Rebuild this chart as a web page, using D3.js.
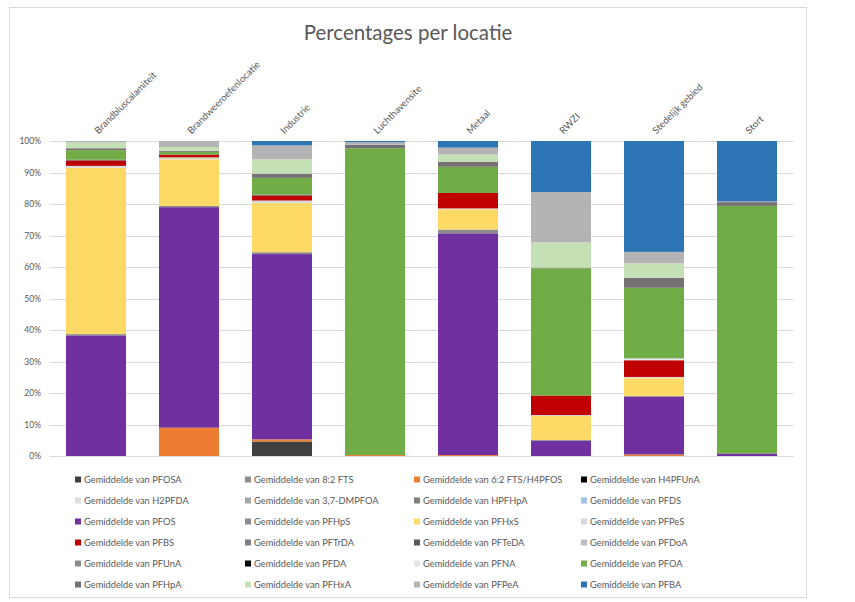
<!DOCTYPE html>
<html>
<head>
<meta charset="utf-8">
<script src="https://cdn.jsdelivr.net/npm/d3@7"></script>
<style>
  html, body { margin: 0; padding: 0; background: #ffffff; }
  svg { display: block; }
  text { font-family: Lato, "Open Sans", sans-serif; fill: #595959; }
</style>
</head>
<body>
<svg id="chart" width="855" height="602"></svg>
<script>
const title = "Percentages per locatie";

const categories = ["Brandbluscalamiteit", "Brandweeroefenlocatie", "Industrie", "Luchthavensite",
  "Metaal", "RWZI", "Stedelijk gebied", "Stort"];

const tickValues = [0, 10, 20, 30, 40, 50, 60, 70, 80, 90, 100];
const tickLabels = ["0%", "10%", "20%", "30%", "40%", "50%", "60%", "70%", "80%", "90%", "100%"];

const seriesNames = [
  "Gemiddelde van PFOSA", "Gemiddelde van 8:2 FTS", "Gemiddelde van 6:2 FTS/H4PFOS", "Gemiddelde van H4PFUnA",
  "Gemiddelde van H2PFDA", "Gemiddelde van 3,7-DMPFOA", "Gemiddelde van HPFHpA", "Gemiddelde van PFDS",
  "Gemiddelde van PFOS", "Gemiddelde van PFHpS", "Gemiddelde van PFHxS", "Gemiddelde van PFPeS",
  "Gemiddelde van PFBS", "Gemiddelde van PFTrDA", "Gemiddelde van PFTeDA", "Gemiddelde van PFDoA",
  "Gemiddelde van PFUnA", "Gemiddelde van PFDA", "Gemiddelde van PFNA", "Gemiddelde van PFOA",
  "Gemiddelde van PFHpA", "Gemiddelde van PFHxA", "Gemiddelde van PFPeA", "Gemiddelde van PFBA"
];

const seriesColors = [
  "#404040", "#8c8c8c", "#ed7d31", "#000000",
  "#e0e0e0", "#a5a5a5", "#7f7f7f", "#9dc3e6",
  "#7030a0", "#8c8c8c", "#ffd966", "#d9d9d9",
  "#c00000", "#7f7f7f", "#595959", "#bfbfbf",
  "#8c8c8c", "#000000", "#e7e6e6", "#70ad47",
  "#767171", "#c5e0b4", "#b4b4b4", "#2e75b6"
];

// one row per series, one value (%) per category
const seriesValues = [
  [0, 0, 4.6, 0, 0, 0, 0, 0],          // PFOSA
  [0, 0, 0, 0, 0, 0, 0, 0],            // 8:2 FTS
  [0, 9.0, 0.7, 0.3, 0.3, 0, 0.5, 0],  // 6:2 FTS/H4PFOS
  [0, 0, 0, 0, 0, 0, 0, 0],            // H4PFUnA
  [0, 0, 0, 0, 0, 0, 0, 0],            // H2PFDA
  [0, 0, 0, 0, 0, 0, 0, 0],            // 3,7-DMPFOA
  [0, 0, 0, 0, 0, 0, 0, 0],            // HPFHpA
  [0, 0, 0, 0, 0, 0, 0, 0],            // PFDS
  [38.3, 70.0, 58.8, 0, 70.4, 4.8, 18.3, 0.8], // PFOS
  [0.4, 0.4, 0.6, 0, 1.2, 0.3, 0.3, 0],        // PFHpS
  [52.8, 14.8, 15.6, 0, 6.4, 7.6, 5.6, 0],     // PFHxS
  [0.6, 0.6, 0.8, 0, 0.3, 0.3, 0.4, 0],        // PFPeS
  [1.7, 0.9, 1.6, 0, 4.9, 6.2, 5.3, 0],        // PFBS
  [0, 0, 0, 0, 0, 0, 0, 0],            // PFTrDA
  [0.3, 0, 0.3, 0, 0, 0, 0, 0],        // PFTeDA
  [0, 0, 0, 0, 0, 0, 0, 0],            // PFDoA
  [0, 0, 0, 0, 0, 0, 0, 0],            // PFUnA
  [0, 0, 0, 0, 0, 0, 0, 0],            // PFDA
  [0, 0, 0, 0, 0, 0, 0.6, 0],          // PFNA
  [3.0, 0.8, 5.3, 97.4, 8.3, 40.4, 22.4, 78.6], // PFOA
  [0.6, 0.3, 1.3, 1.1, 1.6, 0.2, 3.2, 1.2],     // PFHpA
  [1.8, 1.3, 4.6, 0, 2.3, 8.0, 4.6, 0],         // PFHxA
  [0.5, 1.9, 4.4, 0.8, 2.2, 16.0, 3.6, 0.2],    // PFPeA
  [0, 0, 1.4, 0.4, 2.1, 16.2, 35.2, 19.2]       // PFBA
];

const svg = d3.select("#chart");

// chart frame
svg.append("rect").attr("x", 9.5).attr("y", 7.5).attr("width", 797).attr("height", 590)
  .attr("fill", "#ffffff").attr("stroke", "#d9d9d9").attr("stroke-width", 1);

// title
svg.append("text").attr("x", 408).attr("y", 40).attr("text-anchor", "middle")
  .style("font-size", "20.5px").text(title);

const plot = { left: 49.5, right: 793.5, top: 141, bottom: 456 };

const x = d3.scaleBand().domain(categories).range([plot.left, plot.right])
  .paddingInner(0.355).paddingOuter(0.1775);
const y = d3.scaleLinear().domain([0, 100]).range([plot.bottom, plot.top]);

// gridlines
svg.append("g").selectAll("line").data(tickValues).join("line")
  .attr("x1", plot.left).attr("x2", plot.right)
  .attr("y1", d => Math.round(y(d)) + 0.5).attr("y2", d => Math.round(y(d)) + 0.5)
  .attr("stroke", "#d9d9d9").attr("stroke-width", 1);

// y-axis labels
const yAxis = d3.axisLeft(y).tickValues(tickValues)
  .tickFormat((d, i) => tickLabels[i]).tickSize(0).tickPadding(0);
const gy = svg.append("g").attr("transform", `translate(41,0)`).call(yAxis);
gy.select(".domain").remove();
gy.selectAll("text").style("font-size", "8.5px").style("fill", "#595959")
  .style("font-family", "Lato, 'Open Sans', sans-serif");

// stacked data
const rows = categories.map((c, ci) => {
  const r = { category: c };
  seriesNames.forEach((s, si) => { r[s] = seriesValues[si][ci]; });
  return r;
});
const stack = d3.stack().keys(seriesNames);
const layers = stack(rows);

svg.append("g").selectAll("g").data(layers).join("g")
  .attr("fill", (d, i) => seriesColors[i])
  .selectAll("rect").data(d => d).join("rect")
  .attr("x", d => x(d.data.category))
  .attr("width", x.bandwidth())
  .attr("y", d => y(d[1]))
  .attr("height", d => Math.max(0, y(d[0]) - y(d[1])));

// category labels (top, rotated)
const xAxis = d3.axisTop(x).tickSize(0).tickPadding(0);
const gx = svg.append("g").attr("transform", `translate(0,${plot.top - 9})`).call(xAxis);
gx.select(".domain").remove();
gx.selectAll("text")
  .attr("text-anchor", "start")
  .attr("transform", "rotate(-45)")
  .attr("dx", 0).attr("dy", "0.35em").attr("y", 0)
  .style("font-size", "9.6px").style("fill", "#595959")
  .style("font-family", "Lato, 'Open Sans', sans-serif");

// legend
const colX = [75, 245, 414, 581];
const rowY = [480, 501, 522, 543, 564, 585];
const legend = svg.append("g").selectAll("g").data(seriesNames).join("g")
  .attr("transform", (d, i) => `translate(${colX[i % 4]},${rowY[Math.floor(i / 4)]})`);
legend.append("rect").attr("x", 0).attr("y", -3.5).attr("width", 6).attr("height", 6)
  .attr("fill", (d, i) => seriesColors[i]);
legend.append("text").attr("x", 9).attr("y", 0).attr("dy", "0.33em")
  .style("font-size", "9.3px").text(d => d);
</script>
</body>
</html>
